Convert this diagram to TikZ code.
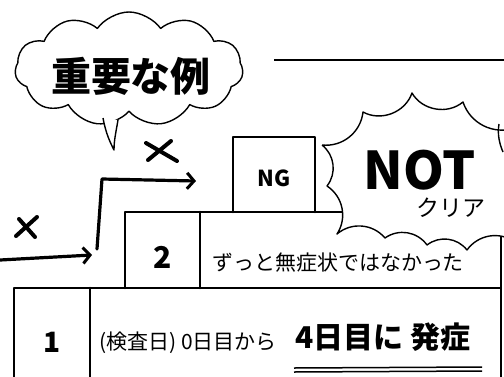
\documentclass[tikz,border=0pt]{standalone}
\usepackage{fontspec}
\newfontfamily\jp{Noto Sans CJK JP}
\usetikzlibrary{shapes.symbols,arrows.meta}
\begin{document}
\begin{tikzpicture}[x=1pt,y=-1pt,
  boxline/.style={line width=2.6pt, line cap=round, line join=round},
  arr/.style={line width=3.2pt, line cap=round, line join=round, -{Straight Barb[length=7pt,width=16pt,line width=3pt]}},
  xmark/.style={line width=4pt, line cap=round},
  bubble/.style={line width=1.4pt, line join=round},
  lbl/.style={font=\jp, inner sep=0pt},
]
\useasboundingbox (0,0) rectangle (504,376);
\fill[white] (0,0) rectangle (504,376);

% top-right line
\coordinate (tl1) at (274,60); \coordinate (tl2) at (504,60);
\draw[line width=1.6pt] (tl1) -- (tl2);

% speech cloud
\node[cloud, draw, bubble, cloud puffs=11, cloud puff arc=110, aspect=2, minimum width=228pt, minimum height=114pt, fill=white] (cloud) at (129,69) {};
\draw[bubble, fill=white] (103,118) .. controls (106,134) and (110,142) .. (114,150) .. controls (114,140) and (116,132) .. (118,120);
\node[lbl, font=\jp\bfseries\fontsize{40}{42}\selectfont] (title) at (131,76) {重要な例};

% row 1
\draw[boxline] (14,390) -- (14,288) -- (501,288) -- (501,390);
\draw[boxline] (90,288) -- (90,390);
\node[lbl, font=\jp\bfseries\fontsize{28}{30}\selectfont] (one) at (52,342) {1};
\node[lbl, anchor=west, font=\jp\fontsize{21}{22}\selectfont] (t1) at (99,343) {(検査日) 0日目から};
\node[lbl, font=\jp\bfseries\fontsize{30}{32}\selectfont] (t1b) at (383,337) {4日目に 発症};
\draw[line width=1.5pt] (294,368) -- (482,367);
\draw[line width=1.5pt] (294,372) -- (482,371);

% row 2
\draw[boxline] (125,288) -- (125,212) -- (501,212) -- (501,288);
\draw[boxline] (200,212) -- (200,288);
\node[lbl, font=\jp\bfseries\fontsize{30}{32}\selectfont] (two) at (163,257) {2};
\node[lbl, font=\jp\fontsize{21}{22}\selectfont] (t2) at (338,263) {ずっと無症状ではなかった};

% NG box
\draw[boxline] (233,212) -- (233,137) -- (315,137) -- (315,212);
\node[lbl, font=\jp\bfseries\fontsize{22}{24}\selectfont] (ng) at (274,178) {NG};

% NOT bubble
\draw[bubble, fill=white] (322,145) to[bend right=45] (363,112) to[bend right=50] (412,93)
  to[bend right=50] (463,102) to[bend right=45] (515,128) -- (530,128) -- (530,245) -- (515,242)
  to[bend right=45] (467,250) to[bend right=45] (427,245) to[bend right=45] (385,238)
  to[bend right=45] (337,234) to[bend right=45] (327,186) to[bend right=45] (322,145);
\draw[bubble] (499,124) .. controls (497,135) and (500,145) .. (503,152);
\node[lbl, font=\jp\bfseries\fontsize{52}{54}\selectfont] (not) at (420,170) {NOT};
\node[lbl, font=\jp\fontsize{23}{24}\selectfont] (clear) at (451,208) {クリア};

% arrows
\coordinate (a0) at (0,260);
\coordinate (a1) at (92,255);
\draw[arr] (a0) -- (a1);
\coordinate (b0) at (97,249);
\coordinate (b1) at (102,179);
\coordinate (b2) at (196,181);
\draw[arr] (b0) -- (b1) -- (b2);

% crosses
\draw[xmark] (16,236) -- (37,217);
\draw[xmark] (19,219) -- (35,237);
\draw[xmark] (146,143) -- (177,161);
\draw[xmark] (148,160) -- (171,141);
\end{tikzpicture}
\end{document}
